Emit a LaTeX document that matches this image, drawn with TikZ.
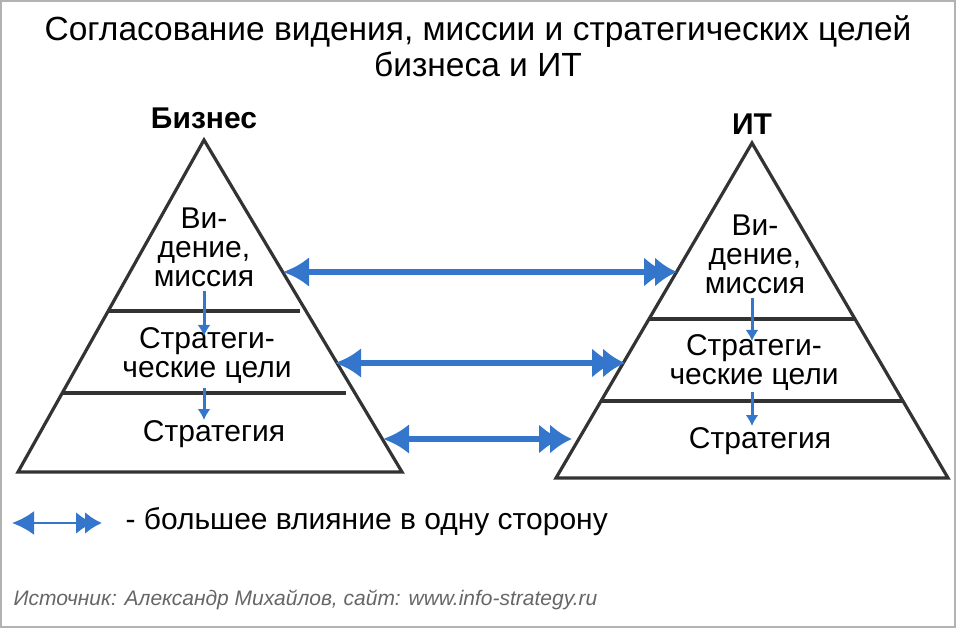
\documentclass[tikz,border=0pt]{standalone}
\usepackage{fontspec}
\setmainfont{Liberation Sans}
\usetikzlibrary{arrows.meta}
\definecolor{ablue}{RGB}{52,118,204}
\begin{document}
\begin{tikzpicture}[x=1pt,y=-1pt,
  pyr/.style={draw=black!80,line width=3.2pt,line join=miter},
  sep/.style={draw=black!80,line width=3.2pt},
  big/.style={ablue,line width=6.5pt,{Latex[length=26pt,width=30pt]}-{Latex[length=22pt,width=30pt,sep=-11pt]Latex[length=22pt,width=30pt]}},
  small/.style={ablue,line width=3pt,-{Latex[length=11pt,width=13pt]}},
  lbl/.style={align=center,font=\fontsize{30}{29}\selectfont,inner sep=0pt}]
\useasboundingbox (0,0) rectangle (956,628);
\draw[black!30,line width=2pt] (1,1) rectangle (955,627);
\node[align=center,font=\fontsize{33.5}{36}\selectfont] (title) at (478,46) {Согласование видения, миссии и стратегических целей\\бизнеса и ИТ};
\node[font=\bfseries\fontsize{30}{36}\selectfont] (b) at (204,118) {Бизнес};
\node[font=\bfseries\fontsize{30}{36}\selectfont] (it) at (752,124) {ИТ};
% left pyramid
\draw[pyr] (204,140) -- (402,472) -- (18,472) -- cycle;
\draw[sep] (108,311) -- (300,311);
\draw[sep] (62,393) -- (346,393);
% right pyramid
\draw[pyr] (752,143) -- (948,478) -- (556,478) -- cycle;
\draw[sep] (649,319) -- (855,319);
\draw[sep] (601,401) -- (903,401);
\node[lbl] (lv) at (204,247) {Ви-\\дение,\\миссия};
\node[lbl] (ls) at (207,356) {Стратеги-\\ческие цели};
\node[lbl] (lst) at (214,434) {Стратегия};
\node[lbl] (rv) at (755,254) {Ви-\\дение,\\миссия};
\node[lbl] (rs) at (754,363) {Стратеги-\\ческие цели};
\node[lbl] (rst) at (760,441) {Стратегия};
\coordinate (a1) at (283,272); \coordinate (b1) at (677,272);
\coordinate (a2) at (335,363); \coordinate (b2) at (625,363);
\coordinate (a3) at (383,439); \coordinate (b3) at (572,439);
\draw[big] (a1) -- (b1);
\draw[big] (a2) -- (b2);
\draw[big] (a3) -- (b3);
\draw[small] (204,291) -- (204,336);
\draw[small] (204,388) -- (204,420);
\draw[small] (752,298) -- (752,341);
\draw[small] (752,392) -- (752,426);
\coordinate (la) at (12,523); \coordinate (lb) at (102,523);
\draw[ablue,line width=2.5pt,{Latex[length=22pt,width=24pt]}-{Latex[length=17pt,width=22pt,sep=-8pt]Latex[length=17pt,width=22pt]}] (la) -- (lb);
\node[anchor=west,font=\fontsize{30}{36}\selectfont] (leg) at (122,522) {- большее влияние в одну сторону};
\node[anchor=west,font=\itshape\fontsize{21}{25}\selectfont,text=black!60] (src) at (10,600) {Источник: Александр Михайлов, сайт: www.info-strategy.ru};
\end{tikzpicture}
\end{document}
